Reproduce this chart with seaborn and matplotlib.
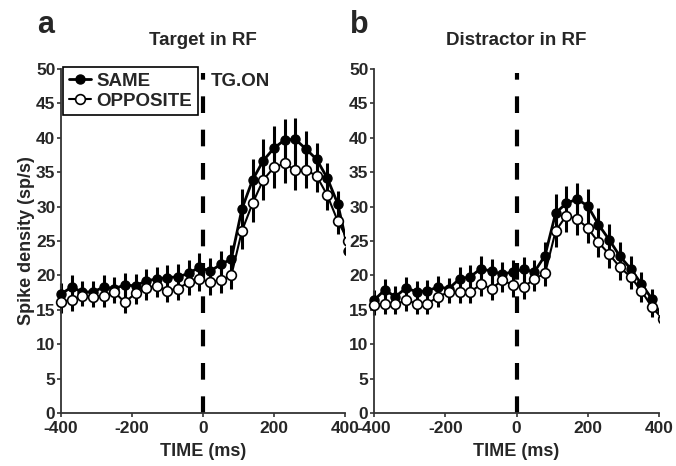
import pandas as pd
import seaborn as sns
import matplotlib.pyplot as plt
from matplotlib.patches import Rectangle

# time bins (ms); the last bin lies just past the axis end
TIMES = [-400, -370, -340, -310, -280, -250, -220, -190, -160, -130, -100, -70, -40, -10,
         20, 50, 80, 110, 140, 170, 200, 230, 260, 290, 320, 350, 380, 410]

# panel a: Target in RF
TARGET_SAME = [17.3, 18.3, 17.6, 17.6, 18.3, 18.1, 18.6, 18.5, 19.2, 19.5, 19.7, 19.8, 20.3, 21.2,
               20.6, 21.6, 22.4, 29.7, 33.9, 36.7, 38.5, 39.7, 39.8, 38.4, 36.9, 34.2, 30.4, 23.5]
TARGET_SAME_ERR = [1.6, 1.7, 1.6, 1.6, 1.7, 1.7, 1.7, 1.7, 1.8, 1.8, 1.8, 1.8, 1.9, 2.0,
                   2.0, 2.0, 2.0, 2.9, 3.0, 3.1, 3.3, 3.0, 3.1, 2.6, 2.4, 2.2, 1.9, 1.6]
TARGET_OPP = [16.1, 16.5, 17.0, 16.9, 17.0, 17.6, 16.1, 17.4, 18.2, 18.5, 17.8, 18.1, 19.0, 19.5,
              19.0, 19.3, 20.0, 26.5, 30.5, 33.9, 35.7, 36.3, 35.3, 35.3, 34.5, 31.7, 27.9, 25.0]
TARGET_OPP_ERR = [1.5, 1.6, 1.5, 1.5, 1.6, 1.6, 1.6, 1.6, 1.7, 1.7, 1.7, 1.7, 1.8, 1.8,
                  1.8, 1.8, 1.9, 2.6, 2.8, 2.9, 3.0, 2.9, 2.9, 2.6, 2.4, 2.2, 1.9, 1.6]

# panel b: Distractor in RF
DISTR_SAME = [16.4, 17.9, 16.9, 18.2, 17.6, 17.8, 18.3, 18.1, 19.5, 19.8, 21.0, 20.6, 20.2, 20.5,
              20.9, 20.5, 22.9, 29.1, 30.5, 31.1, 30.1, 27.4, 25.2, 22.8, 21.0, 18.8, 16.6, 13.8]
DISTR_SAME_ERR = [1.5, 1.6, 1.5, 1.6, 1.6, 1.6, 1.6, 1.6, 1.7, 1.7, 1.8, 1.8, 1.7, 1.8,
                  1.8, 1.8, 2.0, 2.7, 2.5, 2.4, 2.5, 2.4, 2.3, 2.1, 1.9, 1.7, 1.5, 1.3]
DISTR_OPP = [15.7, 15.9, 15.8, 16.4, 15.9, 15.9, 16.9, 17.6, 17.6, 17.6, 18.7, 18.1, 19.3, 18.6,
             18.3, 19.5, 20.3, 26.5, 28.7, 28.2, 26.9, 24.8, 23.1, 21.2, 19.8, 17.8, 15.4, 13.7]
DISTR_OPP_ERR = [1.4, 1.5, 1.4, 1.5, 1.5, 1.5, 1.5, 1.6, 1.6, 1.6, 1.7, 1.7, 1.7, 1.7,
                 1.7, 1.7, 1.8, 2.4, 2.4, 2.3, 2.2, 2.1, 2.0, 1.9, 1.8, 1.6, 1.4, 1.3]

PANELS = [
    ("a", "Target in RF", TARGET_SAME, TARGET_SAME_ERR, TARGET_OPP, TARGET_OPP_ERR),
    ("b", "Distractor in RF", DISTR_SAME, DISTR_SAME_ERR, DISTR_OPP, DISTR_OPP_ERR),
]

sns.set_style("ticks")
plt.rcParams['font.family'] = ['Liberation Sans', 'DejaVu Sans']
plt.rcParams['font.weight'] = 'bold'
plt.rcParams['axes.unicode_minus'] = False

fig = plt.figure(figsize=(6.76, 4.66), dpi=100)
axes = [fig.add_axes([0.0902, 0.1137, 0.420, 0.738]),
        fig.add_axes([0.5533, 0.1137, 0.4216, 0.738])]

for i, (ax, (letter, title, same, same_err, opp, opp_err)) in enumerate(zip(axes, PANELS)):
    df = pd.DataFrame({"time": TIMES, "same": same, "opp": opp})

    # error bars behind the lines
    ax.errorbar(TIMES, same, yerr=same_err, fmt='none', ecolor='black',
                elinewidth=2.2, capsize=0, zorder=2)
    ax.errorbar(TIMES, opp, yerr=opp_err, fmt='none', ecolor='black',
                elinewidth=2.2, capsize=0, zorder=2)

    sns.lineplot(data=df, x="time", y="same", ax=ax, color='black', lw=2.0,
                 marker='o', markersize=6.5, markerfacecolor='black',
                 markeredgecolor='black', markeredgewidth=1.0,
                 label="SAME", zorder=3)
    sns.lineplot(data=df, x="time", y="opp", ax=ax, color='black', lw=1.5,
                 marker='o', markersize=7, markerfacecolor='white',
                 markeredgecolor='black', markeredgewidth=1.2,
                 label="OPPOSITE", zorder=4)

    # clip at the right edge only, so the first markers sit whole on the spine
    clip = Rectangle((-0.05, -0.05), 1.05, 1.1, transform=ax.transAxes)
    for art in ax.lines + ax.collections:
        art.set_clip_path(clip)

    # target onset
    ax.vlines(0, 0, 49.5, colors='black', lw=3.0, linestyles=(0, (4, 4)), zorder=1)

    ax.set_xlim(-400, 400)
    ax.set_ylim(0, 50)
    ax.set_xticks([-400, -200, 0, 200, 400])
    ax.set_yticks(range(0, 51, 5))
    ax.tick_params(labelsize=12.5, length=3, width=1.2, color='#333333')
    ax.tick_params(axis='x', pad=3)
    ax.tick_params(axis='y', pad=1)
    for lab in ax.get_xticklabels() + ax.get_yticklabels():
        lab.set_fontweight('bold')
    sns.despine(ax=ax)
    for sp in ("left", "bottom"):
        ax.spines[sp].set_linewidth(1.3)
        ax.spines[sp].set_color('#333333')

    ax.set_xlabel("TIME (ms)", fontsize=13, fontweight='bold', labelpad=5)
    ax.set_ylabel("Spike density (sp/s)" if i == 0 else "", fontsize=13,
                  fontweight='bold', labelpad=1)
    ax.set_title(title, fontsize=13.5, fontweight='bold', pad=17)
    ax.text(-0.085, 1.105, letter, transform=ax.transAxes,
            fontsize=22, fontweight='bold', ha='left', va='baseline')

    if i == 0:
        ax.text(21, 48.2, "TG.ON", fontsize=13.5, fontweight='bold', va='center', ha='left')
        leg = ax.legend(loc='upper left', bbox_to_anchor=(0.007, 1.006), borderaxespad=0,
                        frameon=True, fancybox=False, edgecolor='black',
                        framealpha=1, handlelength=1.2, handletextpad=0.3,
                        labelspacing=0.15, borderpad=0.3, prop={'weight': 'bold', 'size': 13.5})
        leg.get_frame().set_linewidth(1.2)
    else:
        ax.get_legend().remove()

fig.savefig("out.png", dpi=100)
